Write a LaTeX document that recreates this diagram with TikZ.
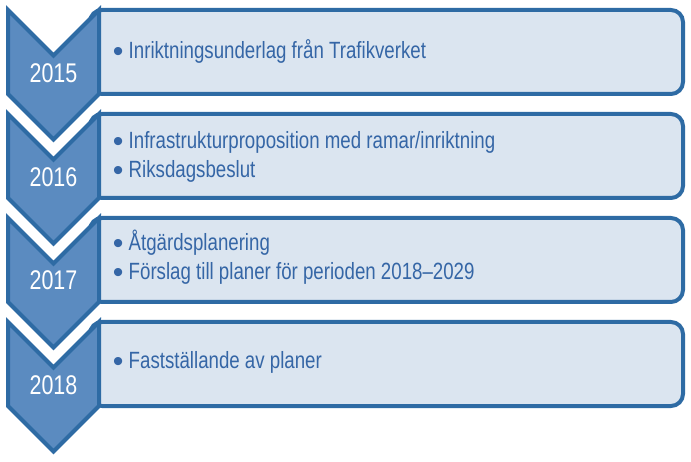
\documentclass[tikz,border=0pt]{standalone}
\usepackage{fontspec}
\setmainfont{Liberation Sans}[FakeStretch=0.795]
\definecolor{bdr}{HTML}{2E6BA4}
\definecolor{chev}{HTML}{5B8BC0}
\definecolor{boxf}{HTML}{DBE5F0}
\definecolor{txt}{HTML}{3566A6}
\tikzset{
  panel/.style={draw=bdr, line width=4pt, fill=boxf, rounded corners=12pt},
  chevron/.style={draw=bdr, line width=4pt, fill=chev, line join=miter},
  yearlbl/.style={text=white, font=\fontsize{27}{27}\selectfont, anchor=base, inner sep=0pt},
  itemlbl/.style={text=txt, font=\fontsize{23.5}{29}\selectfont, anchor=base west, inner sep=0pt}
}
\newcommand{\bul}{\makebox[21pt][c]{\raisebox{-2.5pt}{\scalebox{1.27}[1]{\fontsize{30}{29}\selectfont•}}}}
\newcommand{\chevronshape}[1]{%
  \draw[chevron] (8,#1) -- (53.5,#1+45.5) -- (99,#1) -- (99,#1+84) -- (53.5,#1+129.5) -- (8,#1+84) -- cycle;}
\begin{document}
\begin{tikzpicture}[x=1pt,y=-1pt]
\useasboundingbox[fill=white] (0,0) rectangle (691,462);
% panels
\foreach \t in {10,114,218,322}{
  \draw[panel] (90,\t) rectangle (683,\t+84);
}
% chevrons
\foreach \t in {10,114,218,322}{
  \chevronshape{\t}
}
% years
\node[yearlbl] (y1) at (53.5,83) {2015};
\node[yearlbl] (y2) at (53.5,187) {2016};
\node[yearlbl] (y3) at (53.5,290) {2017};
\node[yearlbl] (y4) at (53.5,394) {2018};
% items
\node[itemlbl] (i1) at (107.5,59) {\bul Inriktningsunderlag från Trafikverket};
\node[itemlbl] (i2a) at (107.5,149) {\bul Infrastrukturproposition med ramar/inriktning};
\node[itemlbl] (i2b) at (107.5,178) {\bul Riksdagsbeslut};
\node[itemlbl] (i3a) at (107.5,251) {\bul Åtgärdsplanering};
\node[itemlbl] (i3b) at (107.5,280) {\bul Förslag till planer för perioden 2018–2029};
\node[itemlbl] (i4) at (107.5,369) {\bul Fastställande av planer};
\end{tikzpicture}
\end{document}
